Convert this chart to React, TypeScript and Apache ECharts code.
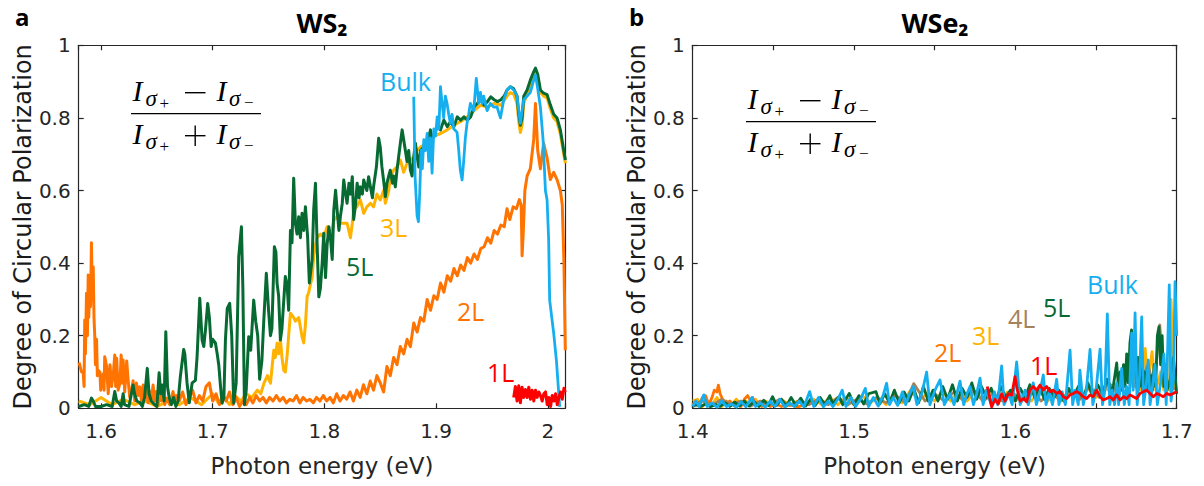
import React, { useEffect, useRef } from "react";
import * as echarts from "echarts";

type Pt = [number, number];

// ---------- axis ranges ----------
const ws2Range: [number, number] = [1.58, 2.0157];
const wse2Range: [number, number] = [1.4, 1.7];
const dcpRange: [number, number] = [0, 1];

// ---------- WS2 (panel a) ----------
const ws2_2L: Pt[] = [
  [1.5804,0.126],[1.5825,0.10],[1.584,0.10],[1.5848,0.06],[1.5854,0.243],[1.586,0.15],[1.587,0.317],[1.5878,0.2],[1.5885,0.367],[1.589,0.25],[1.590,0.35],[1.5906,0.28],[1.5914,0.456],[1.5922,0.30],[1.593,0.39],[1.5937,0.25],[1.5944,0.197],[1.595,0.12],[1.596,0.19],[1.5967,0.09],[1.5974,0.105],[1.599,0.10],[1.5997,0.05],[1.6004,0.08],[1.602,0.095],[1.6027,0.05],[1.6033,0.142],[1.605,0.115],[1.6064,0.04],[1.608,0.12],[1.6094,0.06],[1.611,0.095],[1.6123,0.147],[1.6131,0.06],[1.614,0.138],[1.6153,0.05],[1.617,0.07],[1.618,0.147],[1.619,0.07],[1.6198,0.133],[1.6212,0.045],[1.623,0.13],[1.6242,0.08],[1.6257,0.03],[1.6272,0.046],[1.6287,0.076],[1.6302,0.02],[1.6317,0.07],[1.6332,0.035],[1.6347,0.059],[1.6362,0.02],[1.6377,0.064],[1.6392,0.03],[1.6406,0.055],[1.6421,0.015],[1.6436,0.046],[1.6451,0.025],[1.6466,0.064],[1.648,0.02],[1.6495,0.046],[1.651,0.01],[1.6525,0.037],[1.654,0.02],[1.6555,0.046],[1.657,0.01],[1.6585,0.028],[1.6615,0.01],[1.6645,0.046],[1.666,0.015],[1.6675,0.035],
  [1.670,0.02],[1.673,0.045],[1.676,0.01],[1.679,0.03],[1.682,0.05],[1.685,0.015],[1.688,0.035],[1.691,0.02],[1.694,0.06],[1.697,0.07],[1.700,0.02],[1.703,0.04],[1.706,0.01],[1.709,0.035],[1.712,0.02],[1.715,0.045],[1.718,0.01],[1.721,0.03],[1.724,0.005],[1.727,0.02],[1.730,0.01],[1.733,0.03],[1.736,0.015],[1.739,0.035],[1.742,0.02],[1.745,0.03],[1.748,0.015],[1.751,0.03],[1.754,0.02],[1.757,0.035],[1.760,0.02],[1.763,0.03],[1.766,0.015],[1.769,0.025],[1.772,0.02],[1.775,0.035],[1.778,0.015],[1.781,0.03],[1.784,0.02],[1.787,0.025],[1.790,0.015],[1.793,0.03],[1.796,0.02],[1.799,0.035],[1.802,0.02],[1.805,0.03],[1.808,0.015],[1.811,0.04],[1.814,0.02],[1.817,0.035],[1.820,0.025],[1.823,0.045],[1.826,0.02],[1.829,0.05],[1.832,0.03],[1.835,0.065],[1.838,0.04],[1.841,0.075],[1.844,0.05],[1.847,0.09],
  [1.850,0.07],[1.853,0.045],[1.856,0.115],[1.859,0.09],[1.862,0.14],[1.865,0.12],[1.868,0.17],[1.871,0.15],[1.874,0.19],[1.877,0.17],[1.880,0.235],[1.883,0.21],[1.886,0.25],[1.889,0.24],[1.892,0.30],[1.895,0.27],[1.898,0.31],[1.901,0.30],[1.904,0.345],[1.907,0.32],[1.910,0.365],[1.913,0.35],[1.916,0.385],[1.919,0.365],[1.922,0.395],[1.925,0.38],[1.928,0.415],[1.931,0.40],[1.934,0.425],[1.937,0.41],[1.940,0.44],[1.943,0.445],[1.946,0.47],[1.949,0.455],[1.952,0.49],[1.955,0.48],[1.958,0.505],[1.961,0.50],[1.9635,0.55],[1.966,0.52],[1.969,0.555],[1.972,0.55],[1.9745,0.575],[1.9762,0.56],[1.977,0.42],[1.978,0.48],[1.9795,0.60],[1.9815,0.64],[1.9844,0.66],[1.9874,0.74],[1.989,0.84],[1.991,0.71],[1.9934,0.66],[1.9963,0.73],[1.9994,0.69],[2.0023,0.63],[2.0053,0.65],[2.0083,0.63],[2.0113,0.60],[2.013,0.56],[2.0145,0.40],[2.0157,0.16]
];

const ws2_3L: Pt[] = [
  [1.58,0.02],[1.59,0.01],[1.60,0.03],[1.61,0.01],[1.62,0.025],[1.63,0.01],[1.64,0.02],[1.65,0.005],[1.66,0.02],[1.67,0.01],[1.68,0.03],[1.69,0.01],[1.70,0.04],[1.705,0.015],[1.71,0.03],[1.715,0.01],[1.72,0.035],[1.725,0.02],[1.73,0.04],[1.735,0.03],[1.74,0.05],[1.743,0.04],[1.746,0.07],[1.749,0.09],[1.7517,0.069],[1.7547,0.16],[1.756,0.14],[1.7576,0.179],[1.759,0.15],[1.7606,0.19],[1.762,0.14],[1.7636,0.105],[1.765,0.10],[1.7666,0.145],[1.768,0.20],[1.7696,0.262],[1.7725,0.25],[1.774,0.24],[1.777,0.25],[1.78,0.197],[1.7815,0.18],[1.783,0.23],[1.7845,0.307],[1.786,0.32],[1.7874,0.34],[1.789,0.36],[1.7904,0.418],[1.792,0.45],[1.7935,0.47],[1.7964,0.48],[1.7994,0.47],[1.8024,0.50],[1.8054,0.47],[1.807,0.49],[1.8084,0.518],[1.8114,0.528],[1.8143,0.51],[1.8173,0.51],[1.8203,0.51],[1.8233,0.47],[1.825,0.51],[1.8262,0.546],[1.829,0.555],[1.8322,0.574],[1.8352,0.537],[1.838,0.555],[1.8412,0.565],[1.844,0.555],[1.847,0.59],[1.85,0.574],[1.853,0.60],[1.8546,0.565],[1.8576,0.60],[1.859,0.637],[1.862,0.656],[1.865,0.665],[1.868,0.684],[1.871,0.65],[1.874,0.675],[1.877,0.684],[1.88,0.693],[1.883,0.71],[1.886,0.72],[1.892,0.73],[1.898,0.75],[1.904,0.757],[1.91,0.767],[1.916,0.78],[1.922,0.79],[1.928,0.803],[1.934,0.82],[1.94,0.835],[1.946,0.83],[1.952,0.84],[1.958,0.835],[1.9636,0.86],[1.9665,0.87],[1.9695,0.865],[1.9725,0.84],[1.974,0.79],[1.9755,0.76],[1.977,0.78],[1.9785,0.84],[1.9815,0.865],[1.9844,0.89],[1.9874,0.915],[1.989,0.925],[1.991,0.91],[1.9934,0.87],[1.9963,0.86],[1.9994,0.855],[2.0023,0.825],[2.0053,0.80],[2.0083,0.79],[2.0113,0.755],[2.0143,0.70],[2.0158,0.675]
];

const ws2_5L: Pt[] = [
  [1.58,0.005],[1.585,0.01],[1.589,0.005],[1.5914,0.028],[1.593,0.02],[1.595,0.005],[1.60,0.005],[1.605,0.01],[1.61,0.005],[1.6123,0.046],[1.614,0.02],[1.616,0.015],[1.618,0.005],[1.6198,0.04],[1.621,0.01],[1.625,0.005],[1.6287,0.064],[1.630,0.04],[1.632,0.02],[1.635,0.015],[1.637,0.005],[1.639,0.03],[1.6414,0.11],[1.643,0.04],[1.645,0.02],[1.648,0.01],[1.650,0.005],[1.652,0.098],[1.6535,0.04],[1.655,0.064],[1.6565,0.02],[1.658,0.211],[1.6595,0.06],[1.661,0.03],[1.663,0.01],[1.665,0.03],[1.667,0.005],[1.669,0.02],[1.671,0.087],[1.674,0.162],[1.675,0.15],[1.677,0.07],[1.679,0.015],[1.6816,0.07],[1.6845,0.077],[1.686,0.142],[1.6884,0.303],[1.6905,0.188],[1.692,0.17],[1.6935,0.216],[1.6955,0.289],[1.697,0.25],[1.6986,0.17],[1.700,0.19],[1.7024,0.18],[1.704,0.15],[1.7054,0.12],[1.707,0.06],[1.7084,0.014],[1.710,0.03],[1.7114,0.19],[1.713,0.275],[1.7152,0.289],[1.717,0.20],[1.7188,0.014],[1.721,0.07],[1.7233,0.418],[1.7257,0.50],[1.727,0.33],[1.7284,0.01],[1.730,0.05],[1.7322,0.197],[1.734,0.16],[1.7367,0.298],[1.7385,0.24],[1.7403,0.20],[1.742,0.08],[1.744,0.13],[1.7457,0.24],[1.748,0.372],[1.750,0.27],[1.7517,0.20],[1.753,0.22],[1.7552,0.445],[1.7566,0.43],[1.7576,0.345],[1.759,0.31],[1.7606,0.188],[1.762,0.22],[1.765,0.363],[1.7666,0.34],[1.768,0.27],[1.7696,0.49],[1.771,0.456],[1.7725,0.634],[1.774,0.51],[1.7755,0.48],[1.777,0.528],[1.7785,0.47],[1.78,0.537],[1.7815,0.49],[1.783,0.555],[1.785,0.47],[1.7865,0.345],[1.789,0.41],[1.7904,0.546],[1.792,0.62],[1.7935,0.45],[1.795,0.307],[1.7964,0.33],[1.798,0.40],[1.7994,0.482],[1.801,0.36],[1.8024,0.45],[1.804,0.50],[1.8054,0.47],[1.807,0.41],[1.8084,0.546],[1.81,0.601],[1.8114,0.546],[1.813,0.49],[1.8143,0.528],[1.816,0.565],[1.8173,0.629],[1.819,0.59],[1.8203,0.565],[1.822,0.62],[1.8233,0.59],[1.825,0.638],[1.8262,0.52],[1.828,0.565],[1.8293,0.62],[1.831,0.58],[1.8322,0.61],[1.834,0.59],[1.8352,0.629],[1.837,0.61],[1.838,0.60],[1.8396,0.638],[1.8412,0.61],[1.843,0.58],[1.844,0.61],[1.8466,0.666],[1.8486,0.744],[1.85,0.72],[1.8515,0.665],[1.853,0.628],[1.8546,0.583],[1.856,0.62],[1.8576,0.64],[1.859,0.656],[1.861,0.62],[1.862,0.64],[1.8635,0.61],[1.865,0.656],[1.8665,0.693],[1.868,0.73],[1.8696,0.767],[1.871,0.74],[1.8725,0.71],[1.874,0.68],[1.8755,0.71],[1.877,0.656],[1.8785,0.64],[1.88,0.693],[1.8815,0.73],[1.883,0.693],[1.8845,0.665],[1.886,0.71],[1.889,0.72],[1.892,0.73],[1.895,0.767],[1.8965,0.74],[1.898,0.75],[1.901,0.776],[1.904,0.767],[1.907,0.794],[1.91,0.776],[1.913,0.79],[1.916,0.776],[1.919,0.803],[1.922,0.794],[1.925,0.803],[1.928,0.794],[1.931,0.803],[1.934,0.83],[1.937,0.84],[1.94,0.85],[1.943,0.835],[1.946,0.845],[1.949,0.858],[1.952,0.85],[1.955,0.845],[1.958,0.85],[1.961,0.86],[1.9636,0.877],[1.9665,0.886],[1.9695,0.88],[1.9725,0.86],[1.974,0.81],[1.9755,0.78],[1.977,0.80],[1.9785,0.86],[1.9815,0.877],[1.9844,0.904],[1.9874,0.927],[1.989,0.937],[1.991,0.92],[1.9934,0.877],[1.9963,0.868],[1.9994,0.864],[2.0023,0.836],[2.0053,0.81],[2.0083,0.80],[2.0113,0.767],[2.0143,0.71],[2.0158,0.684]
];

const ws2_bulk: Pt[] = [
  [1.880,0.858],[1.8812,0.638],[1.883,0.53],[1.8842,0.514],[1.8853,0.59],[1.8866,0.711],[1.8877,0.66],[1.889,0.74],[1.8904,0.71],[1.892,0.757],[1.8934,0.68],[1.895,0.745],[1.8964,0.648],[1.898,0.77],[1.8995,0.75],[1.901,0.803],[1.9025,0.77],[1.9039,0.886],[1.9054,0.84],[1.9068,0.80],[1.9083,0.86],[1.9098,0.84],[1.9113,0.81],[1.9128,0.785],[1.9143,0.81],[1.9158,0.77],[1.9188,0.76],[1.9203,0.71],[1.9217,0.656],[1.9233,0.629],[1.9247,0.68],[1.9262,0.745],[1.9277,0.785],[1.9292,0.81],[1.9307,0.84],[1.9337,0.82],[1.936,0.909],[1.9382,0.84],[1.9397,0.87],[1.9412,0.84],[1.9426,0.86],[1.9457,0.82],[1.9486,0.84],[1.9516,0.83],[1.9546,0.83],[1.9576,0.80],[1.9606,0.85],[1.9636,0.877],[1.9665,0.886],[1.9695,0.877],[1.9725,0.86],[1.974,0.82],[1.9755,0.785],[1.977,0.82],[1.9785,0.85],[1.9815,0.86],[1.9844,0.87],[1.9874,0.904],[1.989,0.918],[1.991,0.88],[1.9934,0.83],[1.9958,0.74],[1.9979,0.60],[1.9994,0.574],[2.0008,0.464],[2.0017,0.298],[2.0053,0.207],[2.0077,0.133],[2.0107,0.004]
];

const ws2_1L: Pt[] = [
  [1.9695,0.03],[1.971,0.06],[1.9725,0.02],[1.974,0.062],[1.9755,0.015],[1.977,0.058],[1.9785,0.03],[1.98,0.052],[1.9815,0.03],[1.983,0.058],[1.9845,0.025],[1.986,0.05],[1.9875,0.02],[1.989,0.05],[1.9905,0.03],[1.992,0.045],[1.9935,0.035],[1.995,0.02],[1.9965,0.04],[1.998,0.045],[1.9995,0.01],[2.001,0.03],[2.0025,0.005],[2.004,0.035],[2.0055,0.02],[2.007,0.04],[2.0085,0.01],[2.010,0.03],[2.0115,0.045],[2.013,0.025],[2.0145,0.055],[2.0157,0.045]
];

// ---------- WSe2 (panel b) ----------
const wse2_2L: Pt[] = [
  [1.400,0.01],[1.402,0.02],[1.404,0.008],[1.406,0.03],[1.408,0.035],[1.410,0.01],[1.412,0.03],[1.4134,0.05],[1.415,0.045],[1.4159,0.064],[1.417,0.04],[1.419,0.02],[1.4206,0.01],[1.423,0.02],[1.426,0.006],[1.428,0.015],[1.430,0.005],[1.432,0.025],[1.434,0.035],[1.436,0.02],[1.4372,0.03],[1.439,0.01],[1.441,0.015],[1.443,0.005],[1.445,0.015],[1.448,0.005],[1.4516,0.012],[1.455,0.005],[1.46,0.01],[1.465,0.004],[1.47,0.01]
];

const wse2_3L: Pt[] = [
  [1.400,0.02],[1.403,0.025],[1.406,0.005],[1.409,0.02],[1.412,0.01],[1.415,0.03],[1.418,0.005],[1.421,0.02],[1.424,0.008],[1.427,0.025],[1.430,0.01],[1.433,0.02],[1.436,0.008],[1.439,0.025],[1.442,0.006],[1.445,0.02],[1.450,0.01],[1.455,0.025],[1.460,0.008],[1.465,0.02],[1.470,0.01],[1.475,0.025],[1.480,0.01],[1.485,0.03],[1.490,0.01],[1.495,0.03],[1.500,0.01],[1.505,0.035],[1.510,0.015],[1.515,0.03],[1.520,0.01],[1.525,0.04],[1.530,0.015],[1.535,0.05],[1.540,0.02],[1.545,0.04],[1.550,0.02],[1.555,0.045],[1.560,0.02],[1.565,0.05],[1.570,0.02],[1.575,0.045],[1.580,0.02],[1.585,0.05],[1.590,0.02],[1.595,0.045],[1.600,0.02],[1.605,0.04],[1.610,0.02],[1.615,0.05],[1.620,0.02],[1.625,0.04],[1.630,0.02],[1.635,0.05],[1.640,0.03],[1.645,0.055],[1.650,0.03],[1.655,0.06],[1.660,0.04],[1.665,0.08],[1.670,0.05],[1.675,0.09],[1.678,0.05],[1.6805,0.165],[1.682,0.06],[1.6847,0.156],[1.687,0.05],[1.690,0.10],[1.692,0.05],[1.694,0.08],[1.6955,0.05],[1.6965,0.30],[1.6985,0.06],[1.700,0.05]
];

const wse2_4L: Pt[] = [
  [1.400,0.01],[1.406,0.02],[1.412,0.008],[1.418,0.025],[1.424,0.01],[1.430,0.02],[1.436,0.006],[1.442,0.02],[1.448,0.01],[1.454,0.025],[1.460,0.008],[1.466,0.02],[1.472,0.01],[1.478,0.025],[1.484,0.01],[1.490,0.03],[1.496,0.01],[1.502,0.025],[1.508,0.012],[1.514,0.03],[1.520,0.015],[1.526,0.035],[1.532,0.015],[1.537,0.068],[1.544,0.02],[1.550,0.04],[1.556,0.02],[1.562,0.045],[1.568,0.02],[1.574,0.05],[1.580,0.02],[1.586,0.04],[1.592,0.02],[1.598,0.045],[1.604,0.02],[1.610,0.05],[1.616,0.02],[1.622,0.045],[1.628,0.02],[1.634,0.05],[1.640,0.025],[1.646,0.06],[1.652,0.03],[1.658,0.07],[1.664,0.04],[1.670,0.09],[1.676,0.05],[1.682,0.12],[1.686,0.06],[1.6895,0.23],[1.692,0.08],[1.696,0.06],[1.700,0.05]
];

const wse2_5L: Pt[] = [
  [1.400,0.005],[1.402,0.01],[1.405,0.005],[1.408,0.012],[1.411,0.004],[1.414,0.01],[1.417,0.005],[1.420,0.015],[1.423,0.005],[1.426,0.017],[1.429,0.006],[1.432,0.02],[1.435,0.006],[1.438,0.018],[1.441,0.005],[1.444,0.022],[1.447,0.008],[1.4495,0.032],[1.452,0.008],[1.455,0.025],[1.458,0.006],[1.461,0.03],[1.464,0.008],[1.467,0.028],[1.470,0.006],[1.473,0.025],[1.476,0.008],[1.479,0.03],[1.482,0.01],[1.485,0.035],[1.4868,0.012],[1.4907,0.032],[1.493,0.01],[1.497,0.041],[1.500,0.01],[1.503,0.035],[1.506,0.012],[1.509,0.04],[1.5136,0.046],[1.516,0.012],[1.519,0.04],[1.522,0.015],[1.525,0.05],[1.528,0.015],[1.531,0.045],[1.534,0.02],[1.537,0.055],[1.540,0.015],[1.543,0.06],[1.546,0.02],[1.549,0.05],[1.552,0.02],[1.555,0.06],[1.558,0.025],[1.561,0.065],[1.564,0.02],[1.567,0.055],[1.570,0.03],[1.573,0.07],[1.576,0.025],[1.579,0.06],[1.582,0.03],[1.585,0.055],[1.588,0.02],[1.591,0.06],[1.594,0.03],[1.597,0.05],[1.600,0.02],[1.603,0.055],[1.606,0.03],[1.609,0.065],[1.612,0.03],[1.615,0.06],[1.618,0.025],[1.621,0.055],[1.624,0.03],[1.627,0.05],[1.630,0.02],[1.633,0.055],[1.636,0.03],[1.639,0.06],[1.642,0.025],[1.645,0.07],[1.648,0.03],[1.651,0.065],[1.654,0.04],[1.657,0.08],[1.660,0.04],[1.6628,0.125],[1.664,0.05],[1.665,0.10],[1.666,0.05],[1.667,0.12],[1.668,0.06],[1.669,0.15],[1.670,0.07],[1.671,0.18],[1.672,0.216],[1.673,0.09],[1.674,0.19],[1.675,0.07],[1.676,0.14],[1.677,0.06],[1.678,0.12],[1.679,0.05],[1.680,0.10],[1.681,0.05],[1.682,0.11],[1.683,0.05],[1.684,0.09],[1.685,0.05],[1.686,0.12],[1.687,0.06],[1.688,0.20],[1.689,0.225],[1.690,0.12],[1.691,0.20],[1.692,0.06],[1.693,0.12],[1.694,0.05],[1.696,0.08],[1.698,0.14],[1.700,0.04]
];

const wse2_bulk: Pt[] = [
  [1.400,0.005],[1.402,0.02],[1.404,0.005],[1.4069,0.037],[1.409,0.005],[1.412,0.015],[1.415,0.003],[1.418,0.02],[1.421,0.005],[1.424,0.012],[1.427,0.003],[1.430,0.018],[1.433,0.004],[1.4368,0.03],[1.439,0.005],[1.442,0.015],[1.445,0.003],[1.448,0.02],[1.451,0.005],[1.454,0.025],[1.457,0.004],[1.460,0.015],[1.463,0.005],[1.466,0.02],[1.469,0.004],[1.4725,0.046],[1.475,0.005],[1.478,0.03],[1.481,0.004],[1.484,0.02],[1.487,0.005],[1.490,0.025],[1.4927,0.05],[1.495,0.005],[1.498,0.03],[1.501,0.005],[1.504,0.025],[1.507,0.055],[1.509,0.005],[1.512,0.03],[1.515,0.006],[1.518,0.035],[1.5202,0.069],[1.522,0.01],[1.5243,0.03],[1.527,0.008],[1.530,0.045],[1.532,0.01],[1.534,0.035],[1.5367,0.06],[1.539,0.01],[1.542,0.04],[1.545,0.10],[1.547,0.01],[1.5502,0.05],[1.5533,0.078],[1.556,0.01],[1.5595,0.04],[1.562,0.01],[1.5657,0.075],[1.568,0.01],[1.570,0.04],[1.5719,0.06],[1.574,0.01],[1.576,0.04],[1.5781,0.083],[1.580,0.01],[1.582,0.05],[1.585,0.01],[1.587,0.045],[1.589,0.01],[1.5915,0.117],[1.593,0.01],[1.596,0.04],[1.598,0.01],[1.6008,0.128],[1.603,0.01],[1.606,0.05],[1.608,0.01],[1.6111,0.07],[1.613,0.01],[1.615,0.04],[1.6173,0.092],[1.619,0.01],[1.621,0.045],[1.623,0.01],[1.6256,0.08],[1.627,0.01],[1.629,0.045],[1.631,0.01],[1.6339,0.16],[1.6355,0.01],[1.637,0.05],[1.639,0.01],[1.640,0.105],[1.6421,0.01],[1.644,0.05],[1.6463,0.162],[1.648,0.01],[1.650,0.05],[1.6525,0.163],[1.654,0.01],[1.6555,0.05],[1.657,0.26],[1.6585,0.01],[1.660,0.05],[1.6615,0.01],[1.6628,0.07],[1.664,0.01],[1.6659,0.11],[1.6675,0.01],[1.669,0.06],[1.6705,0.01],[1.6721,0.207],[1.673,0.05],[1.6742,0.263],[1.6755,0.01],[1.677,0.09],[1.6783,0.252],[1.6795,0.01],[1.681,0.06],[1.6824,0.133],[1.6835,0.01],[1.685,0.06],[1.6865,0.12],[1.688,0.01],[1.690,0.07],[1.6921,0.15],[1.6935,0.01],[1.6954,0.34],[1.6965,0.02],[1.698,0.08],[1.699,0.349],[1.700,0.20]
];

const wse2_1L: Pt[] = [
  [1.5826,0.06],[1.5853,0.004],[1.5874,0.025],[1.5894,0.012],[1.5915,0.04],[1.5936,0.02],[1.5956,0.04],[1.5977,0.036],[1.5998,0.087],[1.6012,0.05],[1.6029,0.02],[1.605,0.027],[1.607,0.018],[1.609,0.05],[1.6111,0.06],[1.6132,0.05],[1.6153,0.064],[1.6173,0.05],[1.6194,0.06],[1.6215,0.046],[1.6235,0.05],[1.6256,0.041],[1.6277,0.046],[1.6297,0.032],[1.6318,0.027],[1.6339,0.037],[1.6359,0.041],[1.638,0.046],[1.640,0.041],[1.6421,0.032],[1.6442,0.027],[1.6463,0.037],[1.6483,0.032],[1.6504,0.05],[1.6525,0.032],[1.6545,0.023],[1.6566,0.027],[1.6587,0.032],[1.6607,0.023],[1.6628,0.037],[1.6649,0.023],[1.667,0.032],[1.669,0.027],[1.6711,0.037],[1.6731,0.032],[1.6752,0.027],[1.6773,0.041],[1.6793,0.046],[1.6814,0.05],[1.6835,0.041],[1.6855,0.032],[1.6876,0.041],[1.6897,0.037],[1.6917,0.032],[1.6938,0.041],[1.6959,0.037],[1.6979,0.041],[1.700,0.046]
];

// ---------- texts ----------
const panelTitles = ["WS\u2082", "WSe\u2082"];
const panelLetters = ["a", "b"];
const xTitle = "Photon energy (eV)";
const yTitle = "Degree of Circular Polarization";

// ---------- styles ----------
const C = {
  L1: "#ff0000",
  L2: "#ff7300",
  L3: "#ffb300",
  L4: "#a6825a",
  L5: "#076a32",
  bulk: "#15aff0",
  axis: "#262626",
};
const TICK_FONT = "DejaVu Sans";
const LABEL_FONT = "Open Sans";
const SERIF = "Liberation Serif";

const GRIDS = [
  { left: 78.7, top: 45.3, width: 486.6, height: 363 },
  { left: 692.7, top: 45.3, width: 484, height: 363 },
];

function tenthsFormatter(v: number): string {
  const r = Math.round(v * 10);
  if (Math.abs(v * 10 - r) > 1e-6) return "";
  return String(r / 10);
}

function makeXAxes(gridIndex: number, range: [number, number]) {
  const line = { show: true, onZero: false, lineStyle: { color: C.axis, width: 1.2 } };
  const tick = { show: true, inside: true, length: 5, lineStyle: { color: C.axis, width: 1.2 } };
  return [
    {
      type: "value", gridIndex, min: range[0], max: range[1], splitNumber: 5,
      axisLine: line, axisTick: tick, splitLine: { show: false },
      axisLabel: { formatter: tenthsFormatter, fontSize: 20, fontFamily: TICK_FONT, color: C.axis, margin: 13 },
      name: xTitle, nameLocation: "middle", nameGap: 46,
      nameTextStyle: { fontSize: 23, fontFamily: TICK_FONT, color: C.axis },
    },
    {
      type: "value", gridIndex, position: "top", min: range[0], max: range[1], splitNumber: 5,
      axisLine: line, axisTick: tick, splitLine: { show: false }, axisLabel: { show: false },
    },
  ];
}

function makeYAxes(gridIndex: number) {
  const line = { show: true, onZero: false, lineStyle: { color: C.axis, width: 1.2 } };
  const tick = { show: true, inside: true, length: 5, lineStyle: { color: C.axis, width: 1.2 } };
  return [
    {
      type: "value", gridIndex, min: dcpRange[0], max: dcpRange[1], interval: 0.2,
      axisLine: line, axisTick: tick, splitLine: { show: false },
      axisLabel: { fontSize: 20, fontFamily: TICK_FONT, color: C.axis, margin: 8 },
      name: yTitle, nameLocation: "middle", nameGap: 44,
      nameTextStyle: { fontSize: 24, fontFamily: TICK_FONT, color: "#1a1a1a" },
    },
    {
      type: "value", gridIndex, position: "right", min: dcpRange[0], max: dcpRange[1], interval: 0.2,
      axisLine: line, axisTick: tick, splitLine: { show: false }, axisLabel: { show: false },
    },
  ];
}

function line(name: string, data: Pt[], color: string, axisIdx: number, width: number) {
  return {
    type: "line", name, data, xAxisIndex: axisIdx, yAxisIndex: axisIdx,
    showSymbol: false, symbol: "none", smooth: false,
    lineStyle: { color, width, join: "round" }, itemStyle: { color },
    emphasis: { disabled: true }, silent: true,
  };
}

function txt(x: number, y: number, text: string, size: number, opts: any = {}) {
  return {
    type: "text", x, y, silent: true,
    style: {
      text, fontSize: size, fontFamily: opts.family || SERIF, fontStyle: opts.italic ? "italic" : "normal",
      fontWeight: opts.bold ? "bold" : "normal",
      fill: opts.color || "#000", align: opts.align || "left", verticalAlign: "middle",
    },
  };
}

function seg(x1: number, y1: number, x2: number, y2: number, w = 1.3) {
  return { type: "line", silent: true, shape: { x1, y1, x2, y2 }, style: { stroke: "#000", lineWidth: w } };
}

function formula(bx: number, by: number) {
  const els: any[] = [];
  const rows = [
    { cy: by - 23, plus: false },
    { cy: by + 20, plus: true },
  ];
  for (const r of rows) {
    els.push(txt(bx + 1.5, r.cy, "I", 30, { italic: true }));
    els.push(txt(bx + 14.5, r.cy + 8, "\u03c3", 23, { italic: true }));
    els.push(txt(bx + 28.5, r.cy + 13, "+", 17));
    // binary operator drawn as strokes (wide math minus / plus)
    const oy = r.cy + 2;
    els.push(seg(bx + 54, oy, bx + 74.5, oy, 1.4));
    if (r.plus) els.push(seg(bx + 64.2, oy - 10.2, bx + 64.2, oy + 10.2, 1.4));
    els.push(txt(bx + 85.5, r.cy, "I", 30, { italic: true }));
    els.push(txt(bx + 98, r.cy + 8, "\u03c3", 23, { italic: true }));
    els.push(txt(bx + 113, r.cy + 12, "\u2212", 17));
  }
  els.push(seg(bx, by, bx + 130, by, 1.3));
  return els;
}

const seriesLabels: { text: string; x: number; y: number; color: string }[] = [
  { text: "Bulk", x: 380, y: 81, color: C.bulk },
  { text: "3L", x: 380, y: 227, color: C.L3 },
  { text: "5L", x: 346, y: 266, color: C.L5 },
  { text: "2L", x: 457, y: 311, color: C.L2 },
  { text: "1L", x: 487, y: 372, color: C.L1 },
  { text: "2L", x: 934, y: 352, color: C.L2 },
  { text: "3L", x: 972, y: 335, color: C.L3 },
  { text: "4L", x: 1008, y: 318, color: C.L4 },
  { text: "5L", x: 1043, y: 307, color: C.L5 },
  { text: "Bulk", x: 1087, y: 284, color: C.bulk },
  { text: "1L", x: 1030, y: 365, color: C.L1 },
];

export default function App() {
  const ref = useRef<HTMLDivElement>(null);
  useEffect(() => {
    if (!ref.current) return;
    const chart = echarts.init(ref.current, undefined, { renderer: "svg" });
    const graphics: any[] = [];
    graphics.push(...formula(131, 113.7));
    graphics.push(...formula(746, 121.7));
    for (const l of seriesLabels) {
      graphics.push(txt(l.x, l.y, l.text, 25, { family: LABEL_FONT, color: l.color }));
    }
    graphics.push(txt(322, 22, panelTitles[0], 27, { family: LABEL_FONT, bold: true, align: "center" }));
    graphics.push(txt(935, 22, panelTitles[1], 27, { family: LABEL_FONT, bold: true, align: "center" }));
    graphics.push(txt(15, 16, panelLetters[0], 24, { family: LABEL_FONT, bold: true }));
    graphics.push(txt(629, 16, panelLetters[1], 24, { family: LABEL_FONT, bold: true }));

    chart.setOption({
      animation: false,
      backgroundColor: "#ffffff",
      grid: GRIDS.map((g) => ({ ...g, containLabel: false })),
      xAxis: [...makeXAxes(0, ws2Range), ...makeXAxes(1, wse2Range)],
      yAxis: [...makeYAxes(0), ...makeYAxes(1)],
      series: [
        line("WS2 3L", ws2_3L, C.L3, 0, 3),
        line("WS2 2L", ws2_2L, C.L2, 0, 3),
        line("WS2 5L", ws2_5L, C.L5, 0, 3),
        line("WS2 Bulk", ws2_bulk, C.bulk, 0, 2.8),
        line("WS2 1L", ws2_1L, C.L1, 0, 3),
        line("WSe2 3L", wse2_3L, C.L3, 2, 2.8),
        line("WSe2 2L", wse2_2L, C.L2, 2, 2.8),
        line("WSe2 4L", wse2_4L, C.L4, 2, 2.8),
        line("WSe2 5L", wse2_5L, C.L5, 2, 2.8),
        line("WSe2 Bulk", wse2_bulk, C.bulk, 2, 2.8),
        line("WSe2 1L", wse2_1L, C.L1, 2, 2.8),
      ],
      graphic: { elements: graphics },
    });
    return () => chart.dispose();
  }, []);
  return (
    <div
      ref={ref}
      style={{ position: "absolute", left: 0, top: 0, width: 1204, height: 486, background: "#fff" }}
    />
  );
}
